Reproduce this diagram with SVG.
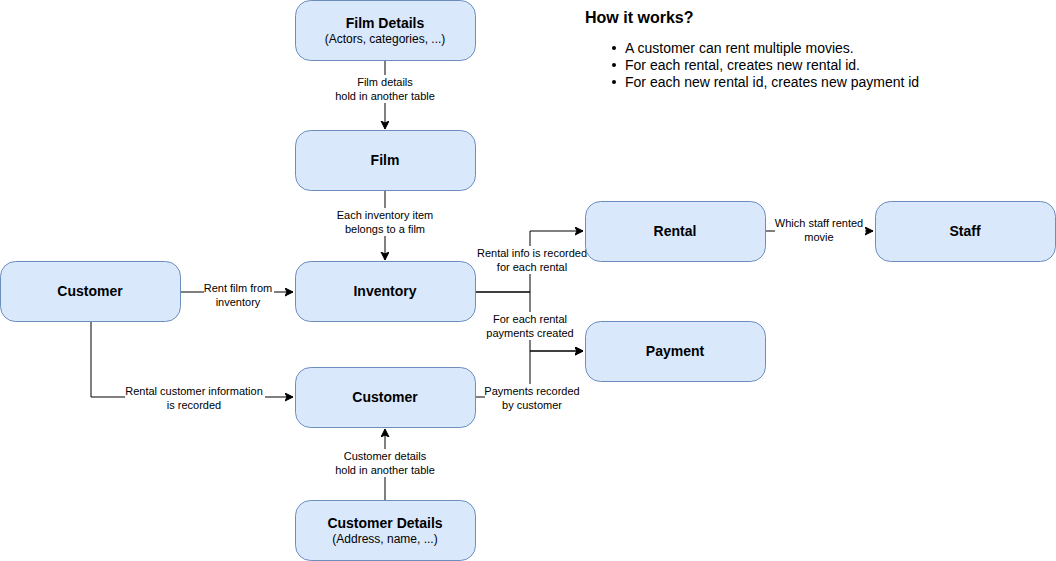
<svg xmlns="http://www.w3.org/2000/svg" width="1056" height="561" viewBox="0 0 1056 561">
<style>
.n{fill:#dae8fc;stroke:#6c8ebf;stroke-width:1}
.t{font-family:"Liberation Sans",Arial,sans-serif;font-size:14px;font-weight:bold;fill:#000;text-anchor:middle}
.s{font-family:"Liberation Sans",Arial,sans-serif;font-size:12px;fill:#000;text-anchor:middle}
.e{fill:none;stroke:#000;stroke-width:1}
.l{font-family:"Liberation Sans",Arial,sans-serif;font-size:11px;fill:#000;text-anchor:middle}
.bg{fill:#fff}
.h{font-family:"Liberation Sans",Arial,sans-serif;fill:#000}
</style>
<defs>
<marker id="a" markerWidth="10" markerHeight="10" refX="8" refY="4" orient="auto" markerUnits="userSpaceOnUse">
<path d="M0,0 L8,4 L0,8 L2,4 Z" fill="#000" stroke="#000" stroke-width="1"/>
</marker>
</defs>
<rect width="1056" height="561" fill="#fff"/>
<g id="connectors">
<path class="e" d="M385,61 V129" marker-end="url(#a)"/>
<path class="e" d="M385,191 V260" marker-end="url(#a)"/>
<path class="e" d="M181,292 H293" marker-end="url(#a)"/>
<path class="e" d="M91,322 V397 H293" marker-end="url(#a)"/>
<path class="e" d="M475,292 H530 V231 H583" marker-end="url(#a)"/>
<path class="e" d="M475,292 H530 V351 H583" marker-end="url(#a)"/>
<path class="e" d="M475,397 H530 V351 H583" marker-end="url(#a)"/>
<path class="e" d="M765,231 H873" marker-end="url(#a)"/>
<path class="e" d="M385,500 V429" marker-end="url(#a)"/>
<g id="labels">
<rect class="bg" x="336" y="75" width="100" height="28"/>
<text class="l" x="385" y="86">Film details</text>
<text class="l" x="385" y="100">hold in another table</text>
<rect class="bg" x="336" y="208" width="98" height="28"/>
<text class="l" x="385" y="219">Each inventory item</text>
<text class="l" x="385" y="233">belongs to a film</text>
<rect class="bg" x="204" y="284" width="70" height="25"/>
<text class="l" x="238" y="292">Rent film from</text>
<text class="l" x="238" y="306">inventory</text>
<rect class="bg" x="125" y="384" width="140" height="28"/>
<text class="l" x="194" y="395">Rental customer information</text>
<text class="l" x="194" y="409">is recorded</text>
<rect class="bg" x="477" y="246" width="110" height="28"/>
<text class="l" x="532" y="257">Rental info is recorded</text>
<text class="l" x="532" y="271">for each rental</text>
<rect class="bg" x="484" y="312" width="92" height="28"/>
<text class="l" x="530" y="323">For each rental</text>
<text class="l" x="530" y="337">payments created</text>
<rect class="bg" x="485" y="384" width="95" height="28"/>
<text class="l" x="532" y="395">Payments recorded</text>
<text class="l" x="532" y="409">by customer</text>
<rect class="bg" x="775" y="216" width="90" height="28"/>
<text class="l" x="819" y="227">Which staff rented</text>
<text class="l" x="819" y="241">movie</text>
<rect class="bg" x="336" y="449" width="100" height="28"/>
<text class="l" x="385" y="460">Customer details</text>
<text class="l" x="385" y="474">hold in another table</text>
</g>
</g>
<g id="film-details">
<rect class="n" x="295.5" y="0.5" width="180" height="60" rx="15"/>
<text class="t" x="385" y="28">Film Details</text>
<text class="s" x="385" y="43">(Actors, categories, ...)</text>
</g>
<g id="film">
<rect class="n" x="295.5" y="130.5" width="180" height="60" rx="15"/>
<text class="t" x="385" y="165">Film</text>
</g>
<g id="inventory">
<rect class="n" x="295.5" y="261.5" width="180" height="60" rx="15"/>
<text class="t" x="385" y="296">Inventory</text>
</g>
<g id="customer-left">
<rect class="n" x="0.5" y="261.5" width="180" height="60" rx="15"/>
<text class="t" x="90" y="296">Customer</text>
</g>
<g id="customer">
<rect class="n" x="295.5" y="367.5" width="180" height="60" rx="15"/>
<text class="t" x="385" y="402">Customer</text>
</g>
<g id="customer-details">
<rect class="n" x="295.5" y="500.5" width="180" height="60" rx="15"/>
<text class="t" x="385" y="528">Customer Details</text>
<text class="s" x="385" y="543">(Address, name, ...)</text>
</g>
<g id="rental">
<rect class="n" x="585.5" y="201.5" width="180" height="60" rx="15"/>
<text class="t" x="675" y="236">Rental</text>
</g>
<g id="payment">
<rect class="n" x="585.5" y="321.5" width="180" height="60" rx="15"/>
<text class="t" x="675" y="356">Payment</text>
</g>
<g id="staff">
<rect class="n" x="875.5" y="201.5" width="180" height="60" rx="15"/>
<text class="t" x="965" y="236">Staff</text>
</g>
<g id="how-it-works">
<text class="h" x="585" y="23" font-size="16" font-weight="bold">How it works?</text>
<circle cx="614" cy="48" r="2"/>
<circle cx="614" cy="65" r="2"/>
<circle cx="614" cy="82" r="2"/>
<text class="h" x="625" y="53" font-size="14">A customer can rent multiple movies.</text>
<text class="h" x="625" y="70" font-size="14">For each rental, creates new rental id.</text>
<text class="h" x="625" y="87" font-size="14">For each new rental id, creates new payment id</text>
</g>
</svg>
